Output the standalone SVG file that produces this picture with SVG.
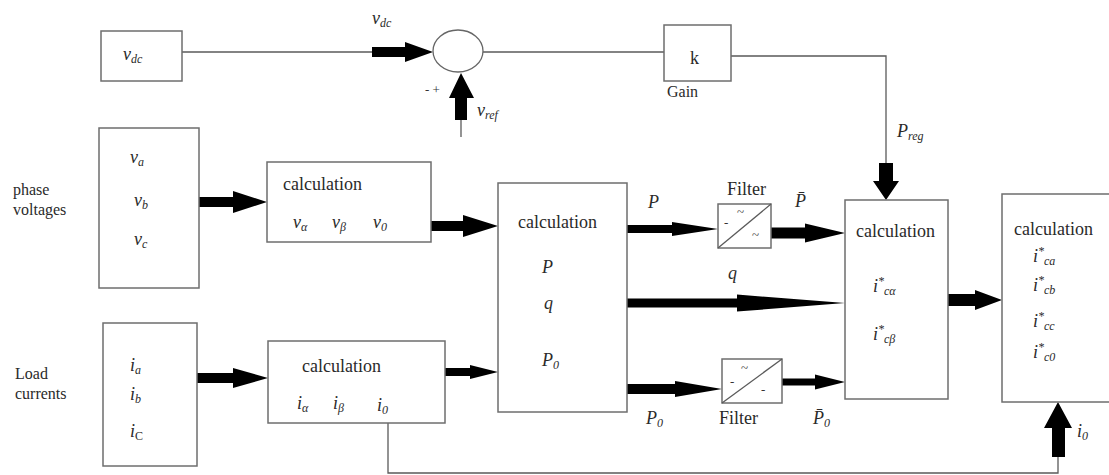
<svg xmlns="http://www.w3.org/2000/svg" width="1109" height="475" viewBox="0 0 1109 475">
<style>
.box{fill:#fff;stroke:#6e6e6e;stroke-width:1.5}
.wire{fill:none;stroke:#5a5a5a;stroke-width:1.3}
.arr{fill:#000}
.t{font-family:'Liberation Serif','DejaVu Serif','Noto Serif',serif;font-size:18px;fill:#2a2a2a}
.lbl{font-family:'Liberation Serif','DejaVu Serif','Noto Serif',serif;font-size:16px;fill:#2a2a2a}
.m{font-family:'Liberation Serif','DejaVu Serif','Noto Serif',serif;font-style:italic;font-size:18px;fill:#2a2a2a}
.s{font-size:12px}
.f{font-family:'Liberation Serif','DejaVu Serif',serif;font-size:13px;fill:#333}
</style>
<rect width="1109" height="475" fill="#fff"/>

<g id="connectors">
  <line class="wire" x1="182" y1="52" x2="372" y2="52"/>
  <polygon class="arr" points="372,47 405,47 405,42 433,52 405,62 405,57 372,57"/>
  <line class="wire" x1="461" y1="137" x2="461" y2="120"/>
  <polygon class="arr" points="455,120 455,98 449,98 461,73 474,98 467,98 467,120"/>
  <line class="wire" x1="483" y1="52" x2="664" y2="52"/>
  <polyline class="wire" points="731,56 886,56 886,165"/>
  <polygon class="arr" points="879,163 893,163 893,181 899,181 886,200 873,181 879,181"/>
  <polygon class="arr" points="199,197 233,197 233,191 267,202 233,213 233,207 199,207"/>
  <polygon class="arr" points="431,221 463,221 463,215 498,226 463,237 463,231 431,231"/>
  <polygon class="arr" points="197,373 233,373 233,368 268,378 233,388 233,383 197,383"/>
  <polygon class="arr" points="445,368 470,368 470,365 498,372 470,379 470,376 445,376"/>
  <polygon class="arr" points="627,225 672,225 672,222 718,229 672,236 672,233 627,233"/>
  <polygon class="arr" points="771,227.5 805,227.5 805,223.5 845,233 805,242.5 805,238.5 771,238.5"/>
  <polygon class="arr" points="627,298.5 737,298.5 737,294.5 845,303 737,311.5 737,307.5 627,307.5"/>
  <polygon class="arr" points="627,384 675,384 675,381 722,389 675,397 675,394 627,394"/>
  <polygon class="arr" points="782,378.5 815,378.5 815,374.5 845,382 815,389.5 815,385.5 782,385.5"/>
  <polygon class="arr" points="948,294 975,294 975,290 1002,300 975,310 975,306 948,306"/>
  <polyline class="wire" points="388,423 388,473 1058,473 1058,457"/>
  <polygon class="arr" points="1052,457 1052,428 1044,428 1058,402 1072,428 1065,428 1065,457"/>
</g>

<g id="vdc-box">
  <rect class="box" x="101" y="31" width="81" height="50"/>
  <text class="m" x="123" y="60">v<tspan class="s" dy="3">dc</tspan></text>
</g>
<text class="m" x="372" y="24">v<tspan class="s" dy="3">dc</tspan></text>

<g id="sum">
  <ellipse cx="458" cy="51" rx="25" ry="21" fill="#fff" stroke="#666" stroke-width="1.3"/>
  <text class="f" x="425" y="94">- +</text>
  <text class="m" x="477" y="116">v<tspan class="s" dy="3">ref</tspan></text>
</g>

<g id="gain">
  <rect class="box" x="664" y="25" width="67" height="56"/>
  <text class="t" x="690" y="64">k</text>
  <text class="lbl" x="667" y="97">Gain</text>
</g>
<text class="m" x="897" y="137">P<tspan class="s" dy="3">reg</tspan></text>

<g id="phase-voltages">
  <text class="lbl" x="13" y="195">phase</text>
  <text class="lbl" x="13" y="215">voltages</text>
  <rect class="box" x="99" y="128" width="100" height="160"/>
  <text class="m" x="130" y="163">v<tspan class="s" dy="3">a</tspan></text>
  <text class="m" x="134" y="206">v<tspan class="s" dy="3">b</tspan></text>
  <text class="m" x="134" y="245">v<tspan class="s" dy="3">c</tspan></text>
</g>

<g id="calc-v">
  <rect class="box" x="267" y="162" width="164" height="80"/>
  <text class="t" x="283" y="190">calculation</text>
  <text class="m" x="293" y="228">v<tspan class="s" dy="3">α</tspan></text>
  <text class="m" x="332" y="228">v<tspan class="s" dy="3">β</tspan></text>
  <text class="m" x="373" y="228">v<tspan class="s" dy="3">0</tspan></text>
</g>

<g id="load-currents">
  <text class="lbl" x="15" y="379">Load</text>
  <text class="lbl" x="15" y="399">currents</text>
  <rect class="box" x="103" y="323" width="94" height="143"/>
  <text class="m" x="130" y="371">i<tspan class="s" dy="3">a</tspan></text>
  <text class="m" x="130" y="400">i<tspan class="s" dy="3">b</tspan></text>
  <text class="m" x="130" y="437">i<tspan class="s" dy="3" style="font-style:normal">C</tspan></text>
</g>

<g id="calc-i">
  <rect class="box" x="268" y="341" width="177" height="82"/>
  <text class="t" x="302" y="372">calculation</text>
  <text class="m" x="297" y="409">i<tspan class="s" dy="3">α</tspan></text>
  <text class="m" x="333" y="409">i<tspan class="s" dy="3">β</tspan></text>
  <text class="m" x="377" y="411">i<tspan class="s" dy="3">0</tspan></text>
</g>

<g id="calc-pq">
  <rect class="box" x="498" y="183" width="129" height="229"/>
  <text class="t" x="518" y="228">calculation</text>
  <text class="m" x="542" y="273">P</text>
  <text class="m" x="544" y="309">q</text>
  <text class="m" x="542" y="366">P<tspan class="s" dy="3">0</tspan></text>
</g>

<text class="m" x="648" y="208">P</text>
<text class="m" x="728" y="279">q</text>
<text class="m" x="795" y="207">P̄</text>
<text class="m" x="646" y="424">P<tspan class="s" dy="3">0</tspan></text>
<text class="m" x="813" y="424">P̄<tspan class="s" dy="3">0</tspan></text>

<g id="filter-p">
  <text class="t" x="727" y="195">Filter</text>
  <rect class="box" x="718" y="204" width="53" height="44"/>
  <line class="wire" x1="718" y1="248" x2="771" y2="204"/>
  <text class="f" x="737" y="216">~</text>
  <text class="f" x="724" y="227">-</text>
  <text class="f" x="752" y="239">~</text>
</g>

<g id="filter-p0">
  <rect class="box" x="722" y="359" width="60" height="44"/>
  <line class="wire" x1="722" y1="403" x2="782" y2="359"/>
  <text class="f" x="741" y="372">~</text>
  <text class="f" x="730" y="386">-</text>
  <text class="f" x="761" y="394">-</text>
  <text class="t" x="719" y="424">Filter</text>
</g>

<g id="calc-ref">
  <rect class="box" x="845" y="200" width="103" height="199"/>
  <text class="t" x="856" y="237">calculation</text>
  <text class="m" x="873" y="292">i<tspan class="s" dy="-7">*</tspan><tspan class="s" dy="10">cα</tspan></text>
  <text class="m" x="873" y="340">i<tspan class="s" dy="-7">*</tspan><tspan class="s" dy="10">cβ</tspan></text>
</g>

<g id="calc-out">
  <rect class="box" x="1002" y="194" width="110" height="208"/>
  <text class="t" x="1014" y="235">calculation</text>
  <text class="m" x="1033" y="262">i<tspan class="s" dy="-7">*</tspan><tspan class="s" dy="10">ca</tspan></text>
  <text class="m" x="1033" y="291">i<tspan class="s" dy="-7">*</tspan><tspan class="s" dy="10">cb</tspan></text>
  <text class="m" x="1033" y="327">i<tspan class="s" dy="-7">*</tspan><tspan class="s" dy="10">cc</tspan></text>
  <text class="m" x="1033" y="358">i<tspan class="s" dy="-7">*</tspan><tspan class="s" dy="10">c0</tspan></text>
</g>
<text class="m" x="1077" y="437">i<tspan class="s" dy="3">0</tspan></text>
</svg>
